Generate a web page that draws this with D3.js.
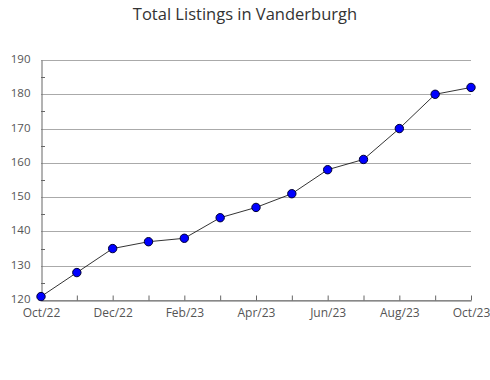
<!DOCTYPE html>
<html>
<head>
<meta charset="utf-8">
<script src="https://cdn.jsdelivr.net/npm/d3@7"></script>
<style>
  body { margin: 0; background: #fff; }
  text { font-family: "Open Sans", "Noto Sans", sans-serif; }
</style>
</head>
<body>
<div id="chart"></div>
<script>
// data
var months = ["Oct/22", "Nov/22", "Dec/22", "Jan/23", "Feb/23", "Mar/23", "Apr/23",
              "May/23", "Jun/23", "Jul/23", "Aug/23", "Sep/23", "Oct/23"];
var listings = [121, 128, 135, 137, 138, 144, 147, 151, 158, 161, 170, 180, 182];
var yTicks = [120, 130, 140, 150, 160, 170, 180, 190];
var title = "Total Listings in Vanderburgh";

var width = 490, height = 380;
var margin = {top: 60, right: 19, bottom: 80, left: 41};
var plotW = width - margin.left - margin.right,
    plotH = height - margin.top - margin.bottom;

var svg = d3.select("#chart").append("svg")
    .attr("width", width)
    .attr("height", height);

svg.append("text")
    .attr("x", width / 2)
    .attr("y", 20)
    .attr("text-anchor", "middle")
    .attr("font-size", 16.5)
    .attr("fill", "#333")
    .text(title);

var g = svg.append("g")
    .attr("transform", `translate(${margin.left},${margin.top})`);

var x = d3.scalePoint().domain(months).range([0, plotW]);
var y = d3.scaleLinear().domain([120, 190]).range([plotH, 0]);

// gridlines
g.selectAll(".grid")
    .data(yTicks)
    .enter()
    .append("line")
    .attr("class", "grid")
    .attr("x1", 0)
    .attr("x2", plotW)
    .attr("y1", d => Math.round(y(d)) + 0.5)
    .attr("y2", d => Math.round(y(d)) + 0.5)
    .attr("stroke", "#aaa")
    .attr("stroke-width", 1);

// minor y ticks (inside)
var minor = d3.range(125, 190, 10);
g.selectAll(".minor")
    .data(minor)
    .enter()
    .append("line")
    .attr("x1", 0)
    .attr("x2", 4)
    .attr("y1", d => Math.round(y(d)) + 0.5)
    .attr("y2", d => Math.round(y(d)) + 0.5)
    .attr("stroke", "#666");

// y axis
var yAxis = g.append("g")
    .attr("transform", "translate(0.5,0)")
    .call(d3.axisLeft(y).tickValues(yTicks).tickSize(0).tickPadding(11));
yAxis.select(".domain").attr("stroke", "#666");
yAxis.selectAll("text").attr("font-size", 11.5).attr("fill", "#555")
    .attr("dy", "0.22em");

// x axis, ticks pointing up into plot
var xAxis = g.append("g")
    .attr("transform", `translate(0,${plotH + 0.5})`)
    .call(d3.axisBottom(x).tickSizeInner(-5).tickSizeOuter(0).tickPadding(8)
        .tickFormat((d, i) => i % 2 === 0 ? d : ""));
xAxis.select(".domain").attr("stroke", "#666");
xAxis.selectAll(".tick line").attr("stroke", "#666");
xAxis.selectAll("text").attr("font-size", 12).attr("fill", "#555");

var line = d3.line()
    .x((d, i) => x(months[i]))
    .y(d => y(d));

g.append("path")
    .datum(listings)
    .attr("fill", "none")
    .attr("stroke", "#000")
    .attr("stroke-width", 0.8)
    .attr("d", line);

g.selectAll(".pt")
    .data(listings)
    .enter()
    .append("circle")
    .attr("class", "pt")
    .attr("cx", (d, i) => x(months[i]))
    .attr("cy", d => y(d))
    .attr("r", 4.2)
    .attr("fill", "#0000ff")
    .attr("stroke", "#000033")
    .attr("stroke-width", 1);
</script>
</body>
</html>
